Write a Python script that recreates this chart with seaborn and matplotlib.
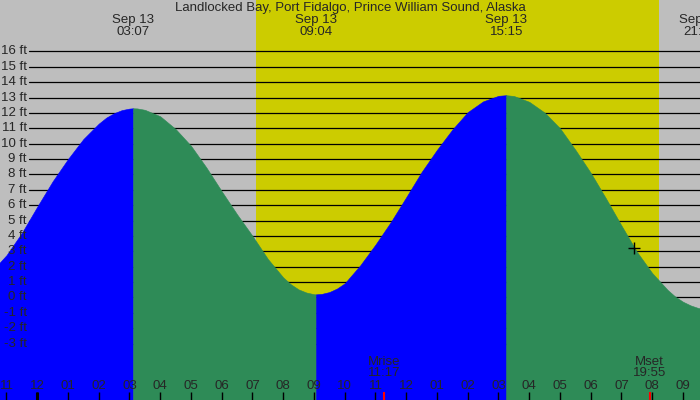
import matplotlib
matplotlib.use("Agg")
import matplotlib.pyplot as plt
import seaborn as sns
import pandas as pd

title = "Landlocked Bay, Port Fidalgo, Prince William Sound, Alaska"

# hours after midnight (Sep 13) and tide height in ft
hours = [-1.25, -1.0, -0.5, 0.0, 0.5, 1.0, 1.5, 2.0, 2.25, 2.5,
         2.75, 3.0, 3.117, 3.25, 3.5, 4.0, 4.5, 5.0, 5.5, 6.0,
         6.5, 7.0, 7.5, 8.0, 8.25, 8.5, 8.75, 9.0, 9.067, 9.25,
         9.5, 9.75, 10.0, 10.5, 11.0, 11.5, 12.0, 12.5, 13.0, 13.5,
         14.0, 14.5, 15.0, 15.25, 15.5, 16.0, 16.5, 17.0, 17.5, 18.0,
         18.5, 19.0, 19.5, 20.0, 20.5, 20.75, 21.0, 21.25, 21.5, 21.6]
height = [2.2, 2.75, 4.2, 5.9, 7.55, 9.0, 10.3, 11.3, 11.7, 11.98,
          12.18, 12.28, 12.3, 12.29, 12.2, 11.78, 10.95, 9.86, 8.45, 6.9,
          5.4, 4.0, 2.5, 1.3, 0.85, 0.52, 0.32, 0.21, 0.2, 0.23,
          0.35, 0.58, 0.92, 2.08, 3.44, 4.91, 6.52, 8.16, 9.6, 10.92,
          12.05, 12.75, 13.11, 13.15, 13.1, 12.72, 12.02, 11.0, 9.6, 8.1,
          6.42, 4.67, 2.97, 1.58, 0.49, 0.05, -0.28, -0.52, -0.69, -0.72]

# high / low tides
ext_hours = [3.117, 9.067, 15.25, 21.55]
ext_dates = ["Sep 13", "Sep 13", "Sep 13", "Sep 13"]
ext_times = ["03:07", "09:04", "15:15", "21:33"]

sunrise, sunset = 7.11, 20.23

moon_hours = [11.283, 19.917]
moon_names = ["Mrise", "Mset"]
moon_times = ["11:17", "19:55"]

now_hour, now_height = 19.406, 3.23

ft_levels = list(range(-3, 17))
hour_ticks = list(range(-1, 22))
hour_labels = ["11", "12", "01", "02", "03", "04", "05", "06", "07", "08", "09", "10",
               "11", "12", "01", "02", "03", "04", "05", "06", "07", "08", "09"]

sns.set_style("white")
plt.rcParams["font.family"] = ["Liberation Sans", "DejaVu Sans"]
FS = 9.5

fig = plt.figure(figsize=(7, 4), dpi=100)
ax = fig.add_axes([0, 0, 1, 1])
ax.set_facecolor("#bebebe")
ax.set_xlim(-1.211, 21.553)
ax.set_ylim(-6.67, 19.34)
xt = ax.get_xaxis_transform()
yt = ax.get_yaxis_transform()

# daylight
ax.axvspan(sunrise, sunset, color="#cccc00", lw=0, zorder=0)

for lvl in ft_levels:
    ax.axhline(lvl, xmin=29 / 700, color="black", lw=0.9, zorder=0.5)

# tide: blue while rising, green while falling
df = pd.DataFrame({"hour": hours, "ft": height})
bounds = [hours[0]] + ext_hours[:3] + [hours[-1]]
colors = ["#0000ff", "#2e8b57"]
for i in range(len(bounds) - 1):
    seg = df[(df.hour >= bounds[i]) & (df.hour <= bounds[i + 1])]
    c = colors[i % 2]
    ax.fill_between(seg.hour, seg.ft, -10, color=c, edgecolor=c, lw=0.4, zorder=1)

sns.scatterplot(x=[now_hour], y=[now_height], marker="+", s=70, color="black",
                linewidth=1, ax=ax, zorder=3)

for lvl in ft_levels:
    ax.text(27 / 700, lvl, f"{lvl} ft", transform=yt, ha="right", va="center",
            fontsize=FS, zorder=3)

ax.text(0.5, 0.98, title, transform=ax.transAxes, ha="center", va="center", fontsize=FS)
for h, d, t in zip(ext_hours, ext_dates, ext_times):
    ax.text(h, 0.95, d, transform=xt, ha="center", va="center", fontsize=FS)
    ax.text(h, 0.921, t, transform=xt, ha="center", va="center", fontsize=FS)

for h, lab in zip(hour_ticks, hour_labels):
    ax.text(h, 0.036, lab, transform=xt, ha="center", va="center", fontsize=FS, zorder=3)
ax.vlines(hour_ticks, 0, 0.02, transform=xt, color="black", lw=1, zorder=3)
ax.vlines([0], 0, 0.02, transform=xt, color="black", lw=2.2, zorder=3)

ax.vlines(moon_hours, 0, 0.02, transform=xt, color="red", lw=1.5, zorder=3)
for h, n, t in zip(moon_hours, moon_names, moon_times):
    ax.text(h, 0.096, n, transform=xt, ha="center", va="center", fontsize=FS, zorder=3)
    ax.text(h, 0.067, t, transform=xt, ha="center", va="center", fontsize=FS, zorder=3)

ax.set_xticks([])
ax.set_yticks([])
ax.set_xlabel("")
ax.set_ylabel("")
for sp in ax.spines.values():
    sp.set_visible(False)

fig.savefig("out.png", dpi=100)
